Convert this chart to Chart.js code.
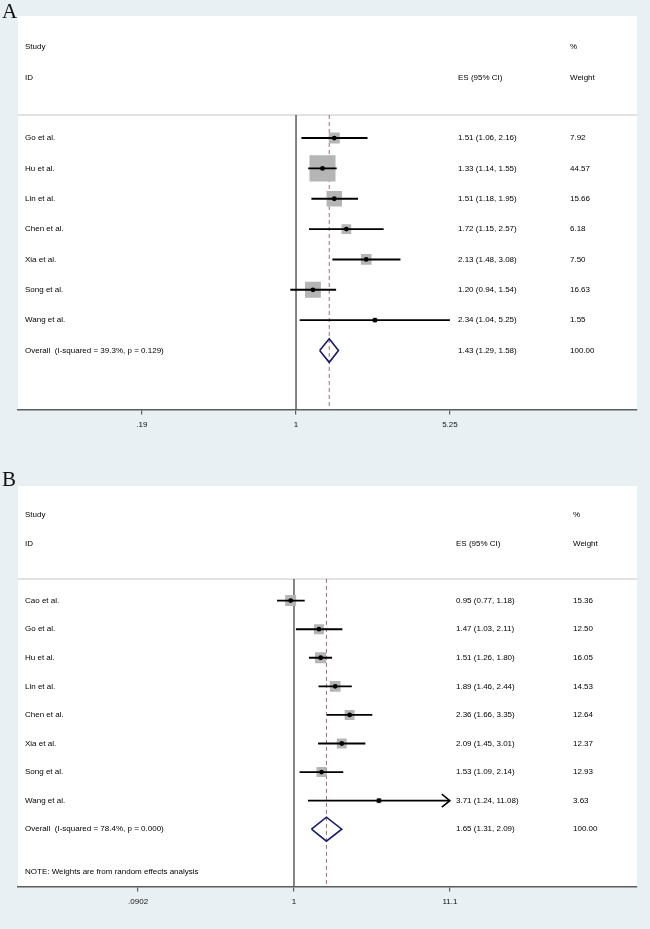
<!DOCTYPE html>
<html lang="en">
<head>
  <meta charset="UTF-8">
  <title>Forest plots A and B</title>
  <script src="https://cdn.jsdelivr.net/npm/chart.js"></script>
  <style>
    body {
      margin: 0;
      width: 650px;
      height: 929px;
      background: #e8f0f3;
      position: relative;
      overflow: hidden;
    }
    .panel { position: absolute; left: 0; width: 650px; }
    .tag {
      position: absolute;
      left: 2px;
      font-family: "Liberation Serif", "Times New Roman", serif;
      font-size: 21px;
      line-height: 21px;
      color: #111;
    }
  </style>
</head>
<body>
  <div class="panel" style="top:0"><canvas id="plotA" width="650" height="460"></canvas></div>
  <div class="panel" style="top:460px"><canvas id="plotB" width="650" height="469"></canvas></div>
  <div class="tag" style="top:1px">A</div>
  <div class="tag" style="top:469px">B</div>

  <script>
    // Panel A
    const studiesA = ['Go et al.', 'Hu et al.', 'Lin et al.', 'Chen et al.', 'Xia et al.', 'Song et al.', 'Wang et al.'];
    const esA = [1.51, 1.33, 1.51, 1.72, 2.13, 1.20, 2.34];
    const loA = [1.06, 1.14, 1.18, 1.15, 1.48, 0.94, 1.04];
    const hiA = [2.16, 1.55, 1.95, 2.57, 3.08, 1.54, 5.25];
    const weightA = [7.92, 44.57, 15.66, 6.18, 7.50, 16.63, 1.55];
    const arrowA = [false, false, false, false, false, false, false];
    const overallA = [1.43, 1.29, 1.58];
    const overallLabelA = 'Overall  (I-squared = 39.3%, p = 0.129)';
    const ticksA = [0.19, 1, 5.25];
    const tickLabelsA = ['.19', '1', '5.25'];

    // Panel B
    const studiesB = ['Cao et al.', 'Go et al.', 'Hu et al.', 'Lin et al.', 'Chen et al.', 'Xia et al.', 'Song et al.', 'Wang et al.'];
    const esB = [0.95, 1.47, 1.51, 1.89, 2.36, 2.09, 1.53, 3.71];
    const loB = [0.77, 1.03, 1.26, 1.46, 1.66, 1.45, 1.09, 1.24];
    const hiB = [1.18, 2.11, 1.80, 2.44, 3.35, 3.01, 2.14, 11.08];
    const weightB = [15.36, 12.50, 16.05, 14.53, 12.64, 12.37, 12.93, 3.63];
    const arrowB = [false, false, false, false, false, false, false, true];
    const overallB = [1.65, 1.31, 2.09];
    const overallLabelB = 'Overall  (I-squared = 78.4%, p = 0.000)';
    const ticksB = [0.0902, 1, 11.1];
    const tickLabelsB = ['.0902', '1', '11.1'];
    const noteB = 'NOTE: Weights are from random effects analysis';

    const FONT = '"Liberation Sans", Arial, sans-serif';
    const SEP_ROW = 2.24;

    function fmt(v) { return v.toFixed(2); }

    function forest(id, d) {
      const rows = d.studies.map((s, i) => i + 3);
      const ovRow = d.studies.length + 3;

      const dots = d.es.map((v, i) => ({ x: v, y: rows[i] }));
      const ci = [];
      d.lo.forEach((v, i) => {
        ci.push({ x: v, y: rows[i] }, { x: d.hi[i], y: rows[i] }, { x: d.hi[i], y: null });
      });
      const [oe, ol, oh] = d.overall;
      const diamond = [
        { x: ol, y: ovRow }, { x: oe, y: ovRow - d.dh }, { x: oh, y: ovRow },
        { x: oe, y: ovRow + d.dh }, { x: ol, y: ovRow }
      ];

      // column texts
      const texts = [
        [d.cols[0], 0, 'Study'], [d.cols[0], 1, 'ID'],
        [d.cols[1], 1, 'ES (95% CI)'], [d.cols[2], 0, '%'], [d.cols[2], 1, 'Weight']
      ];
      d.studies.forEach((s, i) => {
        texts.push([d.cols[0], rows[i], s]);
        texts.push([d.cols[1], rows[i], fmt(d.es[i]) + ' (' + fmt(d.lo[i]) + ', ' + fmt(d.hi[i]) + ')']);
        texts.push([d.cols[2], rows[i], fmt(d.weight[i])]);
      });
      texts.push([d.cols[0], ovRow, d.overallLabel]);
      texts.push([d.cols[1], ovRow, fmt(oe) + ' (' + fmt(ol) + ', ' + fmt(oh) + ')']);
      texts.push([d.cols[2], ovRow, '100.00']);
      if (d.note) texts.push([d.cols[0], ovRow + 1.5, d.note]);

      const decor = {
        id: 'decor',
        beforeDraw(chart) {
          const { ctx, chartArea: a } = chart;
          ctx.save();
          ctx.fillStyle = '#ffffff';
          ctx.fillRect(a.left, a.top, a.right - a.left, a.bottom - a.top);
          ctx.restore();
        },
        beforeDatasetsDraw(chart) {
          const { ctx, chartArea: a, scales } = chart;
          const y = scales.y.getPixelForValue(SEP_ROW);
          ctx.save();
          ctx.strokeStyle = '#d9d9d9';
          ctx.lineWidth = 1.5;
          ctx.beginPath();
          ctx.moveTo(a.left, y);
          ctx.lineTo(a.right, y);
          ctx.stroke();
          ctx.restore();
        },
        afterDatasetsDraw(chart) {
          const { ctx, scales } = chart;
          ctx.save();
          ctx.strokeStyle = '#000';
          ctx.lineWidth = 1.6;
          d.arrow.forEach((on, i) => {
            if (!on) return;
            const x = scales.x.getPixelForValue(d.hi[i]);
            const y = scales.y.getPixelForValue(rows[i]);
            ctx.beginPath();
            ctx.moveTo(x - 8, y - 6.5);
            ctx.lineTo(x, y);
            ctx.lineTo(x - 8, y + 6.5);
            ctx.stroke();
          });
          ctx.fillStyle = '#000';
          ctx.font = '8px ' + FONT;
          ctx.textBaseline = 'middle';
          texts.forEach(([x, r, s]) => {
            ctx.fillText(s, x, scales.y.getPixelForValue(r));
          });
          ctx.restore();
        }
      };

      return new Chart(document.getElementById(id), {
        type: 'scatter',
        data: {
          datasets: [
            {
              data: dots,
              pointStyle: 'circle',
              pointRadius: 2.4,
              backgroundColor: '#000',
              borderWidth: 0
            },
            {
              data: ci,
              showLine: true,
              pointRadius: 0,
              borderColor: '#000',
              borderWidth: 1.9
            },
            {
              data: dots,
              pointStyle: 'rect',
              pointRadius: c => d.box * Math.sqrt(d.weight[c.dataIndex]) / Math.SQRT2,
              backgroundColor: '#b5b5b5',
              borderWidth: 0
            },
            {
              data: diamond,
              showLine: true,
              pointRadius: 0,
              borderColor: '#1b1b6e',
              borderWidth: 1.6,
              fill: false
            },
            {
              data: [{ x: oe, y: SEP_ROW }, { x: oe, y: d.ymax }],
              showLine: true,
              pointRadius: 0,
              borderColor: '#a56b6b',
              borderWidth: 1,
              borderDash: [4, 3]
            },
            {
              data: [{ x: 1, y: SEP_ROW }, { x: 1, y: d.ymax }],
              showLine: true,
              pointRadius: 0,
              borderColor: '#5c5c5c',
              borderWidth: 1.5
            }
          ]
        },
        options: {
          responsive: false,
          animation: false,
          devicePixelRatio: 1,
          // big boxes would otherwise push the plot area inwards
          layout: { padding: d.pad, autoPadding: false },
          plugins: { legend: { display: false }, tooltip: { enabled: false } },
          scales: {
            x: {
              type: 'logarithmic',
              min: d.xmin,
              max: d.xmax,
              afterBuildTicks: s => { s.ticks = d.ticks.map(v => ({ value: v })); },
              afterFit: s => { s.paddingLeft = 0; s.paddingRight = 0; },
              border: { display: true, color: '#5c5c5c', width: 1.5 },
              grid: { drawOnChartArea: false, drawTicks: true, tickLength: 5, color: '#5c5c5c', lineWidth: 1.2 },
              ticks: {
                autoSkip: false,
                maxRotation: 0,
                padding: 6,
                color: '#111',
                font: { family: FONT, size: 8 },
                callback: (v, i) => d.tickLabels[i]
              }
            },
            y: { type: 'linear', reverse: true, min: d.ymin, max: d.ymax, display: false }
          }
        },
        plugins: [decor]
      });
    }

    forest('plotA', {
      studies: studiesA, es: esA, lo: loA, hi: hiA, weight: weightA, arrow: arrowA,
      overall: overallA, overallLabel: overallLabelA, ticks: ticksA, tickLabels: tickLabelsA,
      xmin: 0.050, xmax: 39.4, ymin: -1.02, ymax: 11.94, dh: 0.39, box: 3.9,
      cols: [25, 458, 570], pad: { left: 18, right: 13, top: 16, bottom: 24 }
    });

    forest('plotB', {
      studies: studiesB, es: esB, lo: loB, hi: hiB, weight: weightB, arrow: arrowB,
      overall: overallB, overallLabel: overallLabelB, ticks: ticksB, tickLabels: tickLabelsB,
      note: noteB,
      xmin: 0.01414, xmax: 199, ymin: -1.01, ymax: 13.0, dh: 0.42, box: 2.8,
      cols: [25, 456, 573], pad: { left: 18, right: 13, top: 26, bottom: 16 }
    });
  </script>
</body>
</html>
